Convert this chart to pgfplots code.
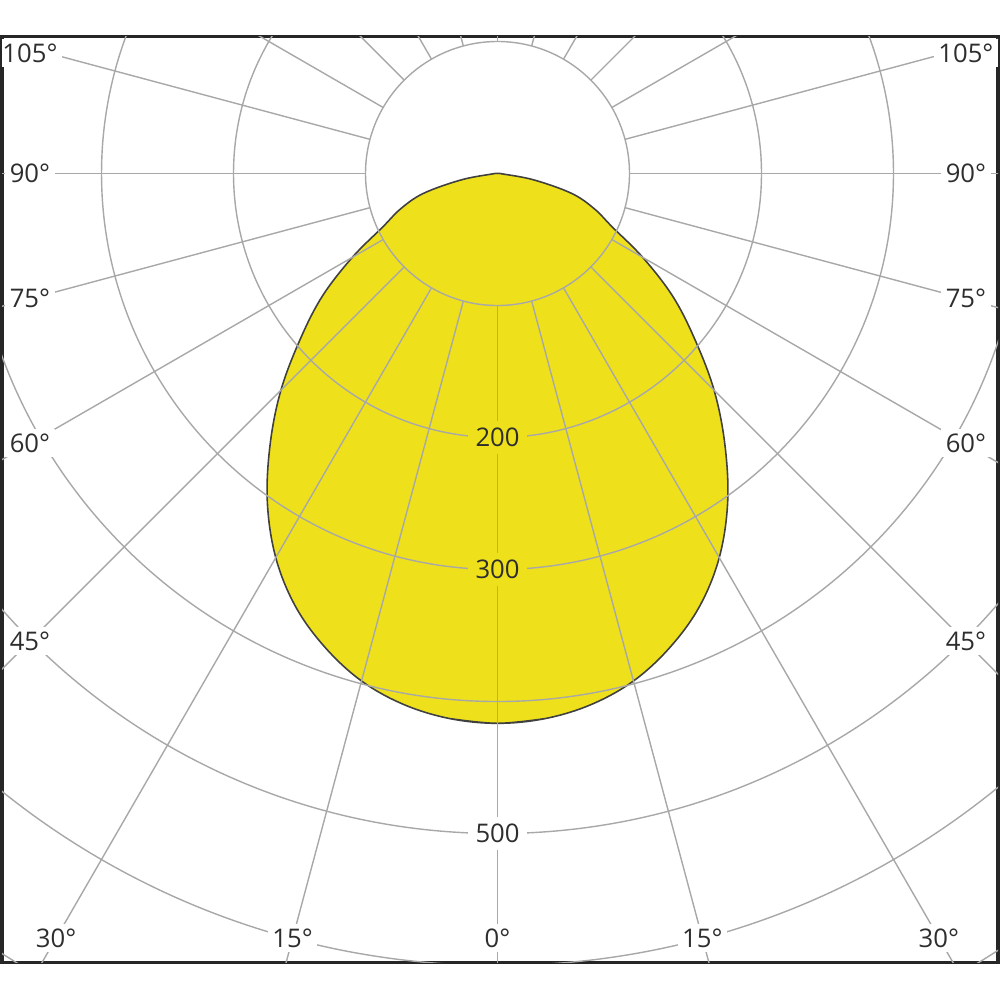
\documentclass[border=0pt]{standalone}
\usepackage{fontspec}
\setmainfont{Open Sans}
\usepackage{pgfplots}
\usepackage{pgfplotstable}
\pgfplotsset{compat=1.18}

\definecolor{lampyellow}{HTML}{EEE11C}
\definecolor{gridc}{HTML}{A8A8A8}
\definecolor{txt}{HTML}{2E2E2E}
\tikzset{lab/.style={fill=white, inner sep=1.3pt, text=txt}}

% luminous intensity (cd) against angle from nadir (degrees),
% listed once round the curve, starting just left of the nadir
\pgfplotstableread{
theta I
-5 414.5
0 416.5
5 414.5
10 408.5
15 398
20 382
25 362
30 336
35 304
40 268
45 232
50 195
55 162
60 127
65 96
70 78
75 58
80 28
85 4
90 0
-85 4
-80 28
-75 58
-70 78
-65 96
-60 127
-55 162
-50 195
-45 232
-40 268
-35 304
-30 336
-25 362
-20 382
-15 398
-10 408.5
-5 414.5
0 416.5
5 414.5
}\ldc

\begin{document}
\begin{tikzpicture}
\path[use as bounding box] (-0.02,-0.375) rectangle (9.98,9.625);
\begin{axis}[
  at={(0,0)}, anchor=south west,
  scale only axis, width=9.96cm, height=9.26cm,
  xmin=-375.4, xmax=379.2, ymin=-597.7, ymax=103.8,
  xtick=\empty, ytick=\empty,
  axis line style={line width=0.9pt, color=black!85},
  clip=true,
  font=\fontsize{7.3}{9}\selectfont,
]
\addplot[fill=lampyellow, draw=black!75, line width=0.45pt, smooth, tension=0.6]
  table[x expr={\thisrow{I}*sin(\thisrow{theta})}, y expr={-\thisrow{I}*cos(\thisrow{theta})}]{\ldc};

% grid circles
\pgfplotsinvokeforeach{100,200,300,400,500,600,700}{
  \draw[gridc, line width=0.4pt] (axis cs:0,0) circle[radius=#1];
}
% spokes every 15 degrees, starting at 100 cd
\pgfplotsinvokeforeach{0,15,...,345}{
  \draw[gridc, line width=0.4pt] (axis cs:{100*sin(#1)},{-100*cos(#1)}) -- (axis cs:{1200*sin(#1)},{-1200*cos(#1)});
}

% radial value labels
\node[lab, fill=lampyellow, inner sep=2pt] at (axis cs:0,-200) {200};
\node[lab, fill=lampyellow, inner sep=2pt] at (axis cs:0,-300) {300};
\node[lab, inner sep=2pt] at (axis cs:0,-500) {500};

% angle labels, left and right
\node[lab] at (axis cs:-354.2,91) {105°};
\node[lab] at (axis cs:-354.2,0) {90°};
\node[lab] at (axis cs:-354.2,-94.9) {75°};
\node[lab] at (axis cs:-354.2,-204.5) {60°};
\node[lab] at (axis cs:-354.2,-354.2) {45°};
\node[lab] at (axis cs:354.9,91) {105°};
\node[lab] at (axis cs:354.9,0) {90°};
\node[lab] at (axis cs:354.9,-94.9) {75°};
\node[lab] at (axis cs:354.9,-204.5) {60°};
\node[lab] at (axis cs:354.9,-354.2) {45°};
% bottom
\node[lab] at (axis cs:-334.4,-579.2) {30°};
\node[lab] at (axis cs:-155.2,-579.2) {15°};
\node[lab] at (axis cs:0,-579.2) {0°};
\node[lab] at (axis cs:155.2,-579.2) {15°};
\node[lab] at (axis cs:334.4,-579.2) {30°};
\end{axis}
\end{tikzpicture}
\end{document}
